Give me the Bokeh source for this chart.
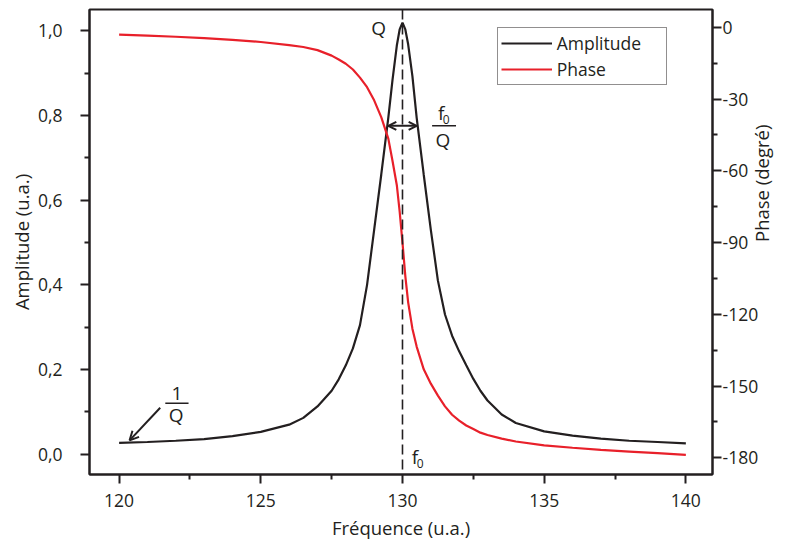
import math
from bokeh.plotting import figure
from bokeh.models import (Range1d, LinearAxis, FixedTicker, CustomJSTickFormatter, Span,
                          Arrow, OpenHead, Label, Legend, LegendItem)
from bokeh.embed import file_html
from bokeh.resources import INLINE

# ---------------- data ----------------
freq = [120, 121, 122, 123, 124, 125, 126, 126.5, 127, 127.5, 127.75, 128, 128.25, 128.5,
        128.75, 129, 129.25, 129.5, 129.65, 129.8, 129.9, 130, 130.1, 130.2, 130.35, 130.5,
        130.75, 131, 131.25, 131.5, 131.75, 132, 132.25, 132.5, 132.75, 133, 133.5, 134,
        135, 136, 137, 138, 139, 140]
amplitude = [0.027, 0.029, 0.032, 0.036, 0.043, 0.053, 0.070, 0.086, 0.113, 0.150, 0.177,
             0.210, 0.250, 0.305, 0.400, 0.530, 0.660, 0.795, 0.885, 0.965, 1.003, 1.019,
             1.003, 0.968, 0.893, 0.795, 0.660, 0.530, 0.410, 0.330, 0.280, 0.243, 0.210,
             0.178, 0.150, 0.127, 0.094, 0.074, 0.054, 0.044, 0.037, 0.032, 0.029, 0.026]
phase = [-3.0, -3.4, -3.9, -4.5, -5.2, -6.1, -7.4, -8.2, -9.5, -11.8, -13.4, -15.2, -17.6,
         -21.0, -25.0, -30.5, -37.5, -46.5, -56.0, -66.0, -77.0, -90.0, -104.0, -115.0,
         -126.0, -133.5, -143.0, -149.0, -154.0, -158.5, -162.0, -164.5, -166.5, -168.0,
         -169.5, -170.5, -172.0, -173.2, -174.8, -175.8, -176.7, -177.4, -178.1, -178.8]

x_ticks = [120, 125, 130, 135, 140]
x_minor = [122.5, 127.5, 132.5, 137.5]
amp_ticks = [0.0, 0.2, 0.4, 0.6, 0.8, 1.0]
amp_minor = [0.1, 0.3, 0.5, 0.7, 0.9]
phase_ticks = [0, -30, -60, -90, -120, -150, -180]
phase_minor = [-15, -45, -75, -105, -135, -165]
f0 = 130

DARK = "#231f20"
RED = "#e8202a"
FONT = "Open Sans"
TICK_FS = "17.5px"
LAB_FS = "18.5px"

p = figure(width=789, height=542, output_backend="svg", toolbar_location=None,
           x_range=Range1d(118.955, 140.94), y_range=Range1d(-0.0477, 1.0501),
           min_border_left=89, min_border_right=75, min_border_top=9, min_border_bottom=68,
           x_axis_label="Fréquence (u.a.)", y_axis_label="Amplitude (u.a.)")
p.extra_y_ranges = {"phase": Range1d(-187.0, 7.49)}
p.xgrid.visible = False
p.ygrid.visible = False
p.outline_line_color = DARK
p.outline_line_width = 2
p.background_fill_color = "white"
p.border_fill_color = "white"

r_amp = p.line(freq, amplitude, line_color=DARK, line_width=2.2)
r_ph = p.line(freq, phase, line_color=RED, line_width=2.2, y_range_name="phase")

ax_r = LinearAxis(y_range_name="phase")
p.add_layout(ax_r, "right")


def style(ax, tick_standoff, label_standoff):
    ax.axis_line_width = 2
    ax.axis_line_color = DARK
    ax.major_tick_line_width = 2
    ax.major_tick_line_color = DARK
    ax.major_tick_out = 9
    ax.major_tick_in = 0
    ax.minor_tick_line_width = 2
    ax.minor_tick_line_color = DARK
    ax.minor_tick_out = 5
    ax.minor_tick_in = 0
    ax.major_label_text_font = FONT
    ax.major_label_text_font_size = TICK_FS
    ax.major_label_text_color = DARK
    ax.major_label_standoff = tick_standoff
    ax.axis_label_text_font = FONT
    ax.axis_label_text_font_size = LAB_FS
    ax.axis_label_text_font_style = "normal"
    ax.axis_label_text_color = DARK
    ax.axis_label_standoff = label_standoff


xa = p.xaxis[0]
ya = p.yaxis[0]
style(xa, 10, 5)
style(ya, 18, 1)
style(ax_r, 1, 0)
xa.ticker = FixedTicker(ticks=x_ticks, minor_ticks=x_minor)
ya.ticker = FixedTicker(ticks=amp_ticks, minor_ticks=amp_minor)
ya.formatter = CustomJSTickFormatter(code="return tick.toFixed(1).replace('.', ',');")
ax_r.ticker = FixedTicker(ticks=phase_ticks, minor_ticks=phase_minor)
ax_r.formatter = CustomJSTickFormatter(code="return tick.toString();")

# title of the phase axis: a second, tickless right axis stacked outside the first one
ax_title = LinearAxis(y_range_name="phase", axis_label="Phase (degré)",
                      ticker=FixedTicker(ticks=[], minor_ticks=[]))
style(ax_title, 0, 0)
ax_title.axis_line_alpha = 0
ax_title.major_tick_out = 0
ax_title.minor_tick_out = 0
ax_title.axis_label_orientation = math.pi / 2
p.add_layout(ax_title, "right")

# dashed line at f0
p.add_layout(Span(location=f0, dimension="height", line_color=DARK, line_width=1.6,
                  line_dash="10 5"))


def label(x, y, text, size="19px"):
    p.add_layout(Label(x=x, y=y, text=text, text_align="center", text_baseline="middle",
                       text_font=FONT, text_font_size=size, text_color=DARK))


def bar(x0, x1, y):
    p.add_layout(Arrow(start=None, end=None, x_start=x0, y_start=y, x_end=x1, y_end=y,
                       line_color=DARK, line_width=1.3))


# Q at the peak
label(129.156, 1.006, "Q")
# width arrow f0/Q
p.add_layout(Arrow(start=OpenHead(size=8, line_width=2, line_color=DARK),
                   end=OpenHead(size=8, line_width=2, line_color=DARK),
                   x_start=129.50, y_start=0.7756, x_end=130.50, y_end=0.7756,
                   line_color=DARK, line_width=2))
label(131.37, 0.806, "f")
label(131.54, 0.790, "0", size="12px")
bar(131.045, 131.889, 0.7756)
label(131.43, 0.7425, "Q")
# 1/Q
label(122.04, 0.1436, "1")
bar(121.63, 122.45, 0.1205)
label(122.01, 0.0924, "Q")
p.add_layout(Arrow(end=OpenHead(size=9, line_width=2, line_color=DARK),
                   x_start=121.45, y_start=0.110, x_end=120.37, y_end=0.033,
                   line_color=DARK, line_width=2))
# f0 at the bottom
label(130.44, -0.006, "f")
label(130.62, -0.022, "0", size="12px")

legend = Legend(items=[LegendItem(label="Amplitude", renderers=[r_amp]),
                       LegendItem(label="Phase", renderers=[r_ph])],
                location=(407.7, 389.5))
legend.border_line_color = DARK
legend.border_line_width = 1.2
legend.background_fill_alpha = 1
legend.label_text_font = FONT
legend.label_text_font_size = "17.5px"
legend.label_text_color = DARK
legend.glyph_width = 51
legend.glyph_height = 20
legend.label_height = 20
legend.label_width = 106
legend.label_standoff = 5
legend.spacing = 2
legend.padding = 3
legend.margin = 0
p.add_layout(legend, "center")

open("out.html", "w").write(file_html(p, INLINE))
